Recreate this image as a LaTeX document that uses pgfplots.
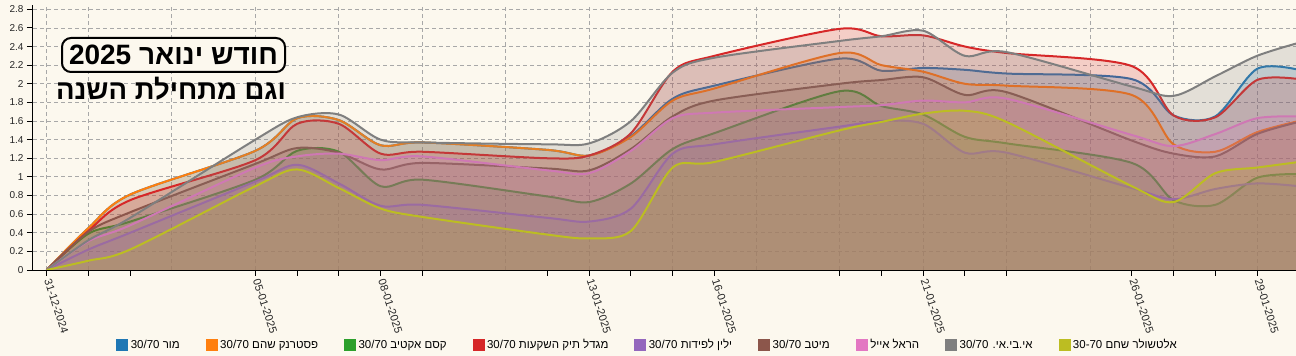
\documentclass[border=0pt]{standalone}
\usepackage{pgfplots}
\pgfplotsset{compat=1.18}
\usepackage{pgfplotstable}
\usepackage{fontspec}
\setmainfont{Liberation Sans}
\newfontfamily\hebfont[Script=Hebrew]{Liberation Sans}
\TeXXeTstate=1
\definecolor{c1}{HTML}{1F77B4}
\definecolor{c2}{HTML}{FF7F0E}
\definecolor{c3}{HTML}{2CA02C}
\definecolor{c4}{HTML}{D62728}
\definecolor{c5}{HTML}{9467BD}
\definecolor{c6}{HTML}{8C564B}
\definecolor{c7}{HTML}{E377C2}
\definecolor{c8}{HTML}{7F7F7F}
\definecolor{c9}{HTML}{BCBD22}
\definecolor{bg}{HTML}{FCF8EE}
\definecolor{gridc}{HTML}{A8A8A8}

\pgfplotstableread{
day blue orange green red purple brown pink gray olive
0 0 0 0 0 0 0 0 0 0
1 0.45 0.45 0.39 0.42 0.22 0.41 0.31 0.32 0.10
2 0.81 0.81 0.52 0.75 0.40 0.62 0.48 0.56 0.22
5 1.28 1.28 0.97 1.18 0.95 1.14 1.10 1.40 0.90
6 1.63 1.63 1.28 1.57 1.13 1.31 1.22 1.64 1.08
7 1.61 1.61 1.27 1.57 0.93 1.26 1.25 1.67 0.88
8 1.34 1.34 0.90 1.25 0.69 1.08 1.18 1.40 0.66
9 1.37 1.37 0.97 1.27 0.70 1.15 1.22 1.37 0.57
12 1.29 1.29 0.79 1.20 0.56 1.09 1.07 1.35 0.38
13 1.23 1.23 0.73 1.23 0.52 1.07 1.04 1.36 0.34
14 1.44 1.43 0.93 1.47 0.66 1.30 1.28 1.60 0.42
15 1.84 1.82 1.30 2.13 1.25 1.65 1.63 2.12 1.10
16 1.98 1.95 1.47 2.30 1.35 1.82 1.69 2.28 1.16
19 2.27 2.33 1.92 2.59 1.54 2.00 1.75 2.46 1.50
20 2.14 2.20 1.76 2.51 1.60 2.04 1.77 2.51 1.59
21 2.17 2.13 1.67 2.52 1.57 2.07 1.82 2.57 1.68
22 2.15 2.00 1.43 2.40 1.26 1.88 1.80 2.30 1.71
23 2.11 1.98 1.36 2.33 1.26 1.91 1.84 2.34 1.59
26 2.05 1.88 1.15 2.19 0.88 1.39 1.45 1.97 0.90
27 1.66 1.35 0.75 1.66 0.76 1.25 1.33 1.87 0.73
28 1.65 1.27 0.70 1.64 0.87 1.22 1.46 2.08 1.04
29 2.16 1.48 0.99 2.04 0.93 1.46 1.63 2.30 1.10
30 2.15 1.60 1.03 2.05 0.90 1.59 1.65 2.44 1.16
}\datatable

\newcommand{\series}[2]{%
  \addplot[draw=none, fill=#2, fill opacity=0.2, smooth, tension=0.5, forget plot] table[x=day,y=#1]{\datatable} \closedcycle;
  \addplot[draw=#2, line width=2bp, smooth, tension=0.5, forget plot] table[x=day,y=#1]{\datatable};
}

\begin{document}
\begin{tikzpicture}
\useasboundingbox (0,0) rectangle (1296bp,356bp);
\fill[bg] (0,0) rectangle (1296bp,356bp);
\begin{axis}[
  at={(33bp,86bp)}, anchor=south west,
  scale only axis, width=1263bp, height=265bp,
  xmin=-0.328, xmax=29.935, ymin=0, ymax=2.846,
  axis x line=bottom, axis y line=left,
  axis line style={-, black, line width=1bp},
  tick align=outside, major tick length=6bp,
  tick style={black, line width=1bp},
  xtick={0,1,2,5,6,7,8,9,12,13,14,15,16,19,20,21,22,23,26,27,28,29},
  xticklabels={31-12-2024,,,05-01-2025,,,08-01-2025,,,13-01-2025,,,16-01-2025,,,21-01-2025,,,26-01-2025,,,29-01-2025},
  xticklabel style={rotate=-72, anchor=west, font=\fontsize{11bp}{13bp}\selectfont, text=black!85},
  ytick={0,0.2,0.4,0.6,0.8,1,1.2,1.4,1.6,1.8,2,2.2,2.4,2.6,2.8},
  yticklabel style={font=\fontsize{10bp}{12bp}\selectfont, text=black!85},
  /pgf/number format/assume math mode=true,
  ymajorgrids,
  major grid style={gridc, line width=0.8bp, dash pattern=on 4bp off 3bp},
  extra x ticks={0,1,3,5,7,9,11,13,15,17,19,21,23,25,27,29},
  extra x tick labels={},
  extra x tick style={major tick length=0pt, xmajorgrids=true},
  legend style={at={(axis description cs:0.487,-0.283)}, anchor=center, draw=none, fill=none,
    legend columns=-1, font=\hebfont\fontsize{11.5bp}{13bp}\selectfont,
    /tikz/every even column/.append style={column sep=23bp},
    nodes={inner xsep=3bp, inner ysep=1bp}},
  legend image code/.code={\fill[#1] (0bp,-5.5bp) rectangle (11bp,5.5bp);},
]
\series{blue}{c1}
\series{orange}{c2}
\series{green}{c3}
\series{red}{c4}
\series{purple}{c5}
\series{brown}{c6}
\series{pink}{c7}
\series{gray}{c8}
\series{olive}{c9}
\addlegendimage{c1}\addlegendentry{\beginR מור \beginL30/70\endL\endR}
\addlegendimage{c2}\addlegendentry{\beginR פסטרנק שהם \beginL30/70\endL\endR}
\addlegendimage{c3}\addlegendentry{\beginR קסם אקטיב \beginL30/70\endL\endR}
\addlegendimage{c4}\addlegendentry{\beginR מגדל תיק השקעות \beginL30/70\endL\endR}
\addlegendimage{c5}\addlegendentry{\beginR ילין לפידות \beginL30/70\endL\endR}
\addlegendimage{c6}\addlegendentry{\beginR מיטב \beginL30/70\endL\endR}
\addlegendimage{c7}\addlegendentry{\beginR הראל אייל\endR}
\addlegendimage{c8}\addlegendentry{\beginR אי.בי.אי. \beginL30/70\endL\endR}
\addlegendimage{c9}\addlegendentry{\beginR אלטשולר שחם \beginL30-70\endL\endR}
\end{axis}
\node[draw=black, line width=2bp, rounded corners=9bp, fill=bg, inner sep=0pt,
  minimum width=223bp, minimum height=34bp,
  font=\hebfont\bfseries\fontsize{28bp}{30bp}\selectfont] at (173.5bp,301bp)
  {\beginR חודש ינואר \beginL2025\endL\endR};
\node[font=\hebfont\bfseries\fontsize{27.5bp}{30bp}\selectfont, inner sep=0pt] at (171bp,267bp)
  {\beginR וגם מתחילת השנה\endR};
\end{tikzpicture}
\end{document}
